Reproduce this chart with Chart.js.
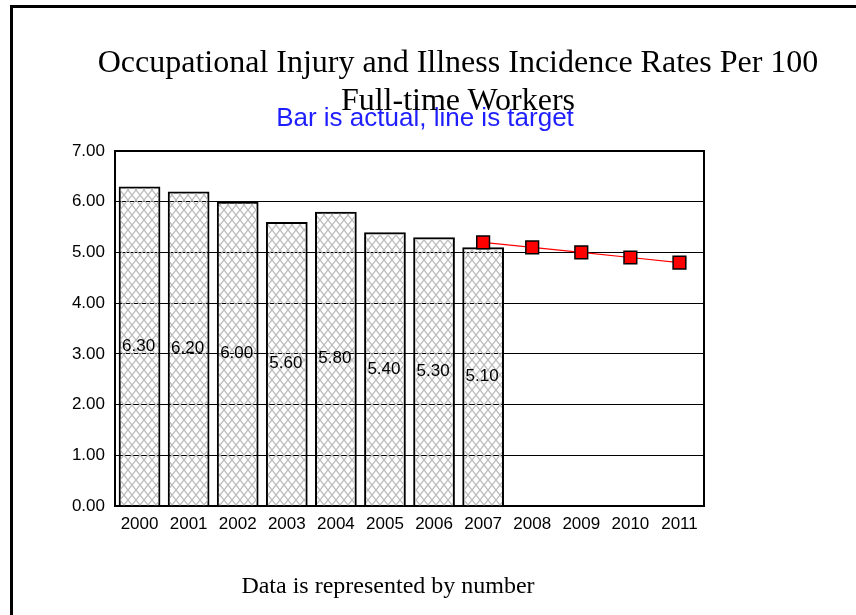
<!DOCTYPE html>
<html>
<head>
<meta charset="utf-8">
<title>Occupational Injury and Illness Incidence Rates</title>
<script src="https://cdn.jsdelivr.net/npm/chart.js@4.4.1/dist/chart.umd.min.js"></script>
<style>
  html, body { margin:0; padding:0; background:#fff; overflow:hidden; }
  #page { position:relative; width:856px; height:615px; }
  #frame { position:absolute; left:10px; top:5px; right:0; bottom:0; border-left:3px solid #000; border-top:3px solid #000; }
  #chart { position:absolute; left:0; top:0; }
  .txt { position:absolute; white-space:nowrap; transform:translateX(-50%); color:#000; }
  #subtitle { left:425px; top:102px; font:26px/30px 'Liberation Sans', Arial, sans-serif; color:#1e1eff; }
  #title { left:458px; top:42px; font:32px/38px 'Liberation Serif', 'Times New Roman', serif; text-align:center; }
  #footer { left:388px; top:571px; font:24px/28px 'Liberation Serif', 'Times New Roman', serif; }
</style>
</head>
<body>
<div id="page">
  <div id="frame"></div>
  <canvas id="chart" width="856" height="615"></canvas>
  <div id="subtitle" class="txt">Bar is actual, line is target</div>
  <div id="title" class="txt">Occupational Injury and Illness Incidence Rates Per 100<br>Full-time Workers</div>
  <div id="footer" class="txt">Data is represented by number</div>
</div>
<script>
const years  = ['2000', '2001', '2002', '2003', '2004', '2005', '2006', '2007', '2008', '2009', '2010', '2011'];
const actual = [6.30, 6.20, 6.00, 5.60, 5.80, 5.40, 5.30, 5.10, null, null, null, null];
const target = [null, null, null, null, null, null, null, 5.20, 5.10, 5.00, 4.90, 4.80];
const yMin = 0, yMax = 7, yStep = 1;

const TICK_FONT = { family: "'Liberation Sans', Arial, sans-serif", size: 17 };

// grey cross hatch used as the bar fill
function hatchPattern(ctx) {
  const w = 8, h = 10;
  const tile = document.createElement('canvas');
  tile.width = w; tile.height = h;
  const t = tile.getContext('2d');
  t.strokeStyle = '#bcbcbc';
  t.lineWidth = 1.3;
  t.beginPath();
  t.moveTo(-w, -h); t.lineTo(2 * w, 2 * h);
  t.moveTo(2 * w, -h); t.lineTo(-w, 2 * h);
  t.stroke();
  return ctx.createPattern(tile, 'repeat');
}

// top and right edge of the plot box
const frameBox = {
  id: 'frameBox',
  beforeDatasetsDraw(chart) {
    const { ctx, chartArea: a } = chart;
    ctx.save();
    ctx.strokeStyle = '#000';
    ctx.lineWidth = 2;
    ctx.beginPath();
    ctx.moveTo(a.left, a.top);
    ctx.lineTo(a.right, a.top);
    ctx.lineTo(a.right, a.bottom);
    ctx.stroke();
    ctx.restore();
  }
};

// value printed in the middle of each bar
const barValues = {
  id: 'barValues',
  afterDatasetsDraw(chart) {
    const { ctx } = chart;
    const meta = chart.getDatasetMeta(0);
    ctx.save();
    ctx.fillStyle = '#000';
    ctx.font = `${TICK_FONT.size}px ${TICK_FONT.family}`;
    ctx.textAlign = 'center';
    ctx.textBaseline = 'middle';
    meta.data.forEach((bar, i) => {
      if (actual[i] == null) return;
      ctx.fillText(actual[i].toFixed(2), bar.x - 1, (bar.y + bar.base) / 2);
    });
    ctx.restore();
  }
};

const canvas = document.getElementById('chart');
const ctx = canvas.getContext('2d');

new Chart(ctx, {
  data: {
    labels: years,
    datasets: [
      {
        type: 'bar',
        label: 'Actual',
        data: actual,
        backgroundColor: hatchPattern(ctx),
        borderColor: '#000',
        borderWidth: 2,
        categoryPercentage: 1,
        barPercentage: 0.85,
        order: 2
      },
      {
        type: 'line',
        label: 'Target',
        data: target,
        borderColor: '#ff0000',
        borderWidth: 1.2,
        tension: 0,
        pointStyle: 'rect',
        pointRadius: 9,
        pointBackgroundColor: '#ff0000',
        pointBorderColor: '#000',
        pointBorderWidth: 1.5,
        order: 1
      }
    ]
  },
  options: {
    responsive: false,
    devicePixelRatio: 1,
    animation: false,
    layout: { padding: { top: 151, right: 152, bottom: 79, left: 0 } },
    plugins: { legend: { display: false }, tooltip: { enabled: false }, title: { display: false } },
    scales: {
      x: {
        grid: { display: false, drawTicks: false },
        border: { color: '#000', width: 2 },
        ticks: { padding: 8, color: '#000', font: TICK_FONT, maxRotation: 0, autoSkip: false },
        afterFit(s) { s.height = 30; }
      },
      y: {
        min: yMin,
        max: yMax,
        grid: { color: '#000', lineWidth: 1, drawTicks: false },
        border: { color: '#000', width: 2 },
        ticks: { stepSize: yStep, padding: 10, color: '#000', font: TICK_FONT, callback: v => v.toFixed(2) },
        afterFit(s) { s.width = 115; }
      }
    }
  },
  plugins: [frameBox, barValues]
});
</script>
</body>
</html>
